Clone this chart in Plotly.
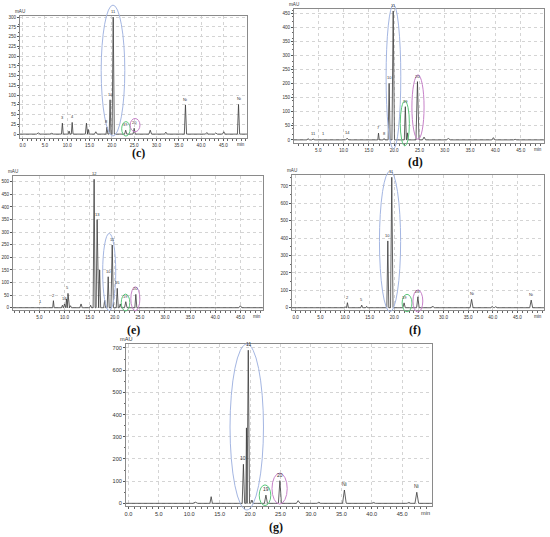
import plotly.graph_objects as go

# peaks: retention time (min), height (mAU), half width (min), label
c_rt = [3.5, 6.5, 8.9, 10.4, 11.1, 14.3, 14.7, 16.4, 18.9, 19.6, 20.3, 23.1, 25.0, 28.6, 32.1, 36.5, 41.3, 43.3, 45.1, 48.4]
c_h = [3, 2, 28, 8, 30, 28, 12, 6, 18, 88, 300, 10, 15, 10, 5, 75, 4, 3, 6, 76]
c_w = [0.4, 0.4, 0.2, 0.2, 0.2, 0.25, 0.2, 0.3, 0.2, 0.2, 0.25, 0.25, 0.25, 0.3, 0.3, 0.25, 0.3, 0.3, 0.3, 0.25]
c_lab = ["", "", "3", "", "4", "", "", "", "8", "10", "11", "19", "20", "", "", "Ni", "", "", "", "Ni"]
c_ell = [(17.6, 22.9, -5, 331), (22.2, 24.1, -5, 32), (24.1, 26.3, 6, 40)]

d_rt = [3.0, 4.0, 6.0, 8.5, 10.7, 16.9, 18.0, 19.0, 19.8, 22.2, 22.6, 24.6, 25.9, 30.7, 39.6, 43.9]
d_h = [4, 3, 2, 2, 6, 24, 5, 201, 458, 118, 25, 207, 10, 5, 8, 2]
d_w = [0.3, 0.3, 0.3, 0.3, 0.3, 0.15, 0.2, 0.2, 0.25, 0.2, 0.15, 0.3, 0.3, 0.4, 0.3, 0.3]
d_lab = ["", "11", "1", "", "14", "7", "8", "10", "11", "19", "", "20", "", "", "", ""]
d_ell = [(18.4, 21.3, -32, 480), (21.2, 23.0, -21, 138), (23.5, 25.9, 2, 231)]

e_rt = [5.3, 7.8, 9.6, 10.0, 10.4, 10.7, 11.2, 13.3, 15.2, 15.9, 16.5, 17.0, 18.0, 18.7, 19.5, 20.5, 21.1, 22.2, 24.2, 30.5, 45.0]
e_h = [2, 28, 10, 15, 35, 57, 8, 15, 10, 510, 350, 150, 30, 123, 249, 77, 15, 24, 53, 3, 8]
e_w = [0.3, 0.15, 0.2, 0.15, 0.15, 0.15, 0.2, 0.25, 0.2, 0.2, 0.2, 0.2, 0.2, 0.2, 0.25, 0.2, 0.2, 0.25, 0.2, 0.4, 0.3]
e_lab = ["1", "2", "", "14", "", "5", "", "", "", "12", "13", "", "", "10", "11", "15", "", "19", "20", "", ""]
e_ell = [(17.6, 20.2, -12, 295), (21.3, 23.0, -13, 54), (23.2, 25.0, -12, 83)]

f_rt = [10.0, 10.5, 13.4, 14.4, 18.7, 19.5, 22.0, 24.8, 27.8, 31.0, 35.7, 39.9, 40.6, 47.8]
f_h = [5, 29, 15, 8, 384, 750, 28, 63, 10, 4, 48, 8, 6, 44]
f_w = [0.2, 0.2, 0.2, 0.2, 0.2, 0.25, 0.25, 0.25, 0.3, 0.3, 0.3, 0.3, 0.3, 0.3]
f_lab = ["", "2", "5", "", "10", "11", "19", "20", "", "", "Ni", "", "", "Ni"]
f_ell = [(17.0, 21.3, -23, 786), (21.6, 23.6, -23, 77), (23.8, 25.8, -25, 102)]

g_rt = [11.0, 13.6, 18.9, 19.4, 19.7, 20.3, 22.6, 24.9, 27.9, 31.3, 35.5, 40.3, 46.1, 47.4]
g_h = [5, 30, 176, 340, 690, 15, 37, 102, 12, 5, 60, 4, 4, 50]
g_w = [0.4, 0.2, 0.2, 0.1, 0.2, 0.2, 0.25, 0.25, 0.3, 0.3, 0.3, 0.3, 0.3, 0.3]
g_lab = ["", "", "10", "", "11", "", "19", "20", "", "", "Ni", "", "", "Ni"]
g_ell = [(16.7, 22.2, -30, 718), (21.5, 23.4, -10, 83), (23.6, 26.1, -3, 136)]

# axis ticks
c_yticks = list(range(0, 301, 25))
d_yticks = list(range(0, 451, 50))
e_yticks = list(range(0, 501, 50))
f_yticks = list(range(0, 701, 100))
g_yticks = list(range(0, 701, 100))
x_ticks_full = [0, 5, 10, 15, 20, 25, 30, 35, 40, 45]
x_ticks_from5 = [5, 10, 15, 20, 25, 30, 35, 40, 45]

ell_colors = ["#a4b6e2", "#5cc97c", "#c782c9"]

W, H = 550, 537

# pixel boxes / ranges / label position for every panel
panels = [
    dict(name="(c)", rt=c_rt, h=c_h, w=c_w, lab=c_lab, ell=c_ell, px=(20, 247), py=(16, 138),
         xr=(-0.6, 50.3), yr=(-10, 303), yt=c_yticks, xt=x_ticks_full, tag=(138, 153), fs=4.6),
    dict(name="(d)", rt=d_rt, h=d_h, w=d_w, lab=d_lab, ell=d_ell, px=(294, 544), py=(9, 143),
         xr=(0.2, 49.6), yr=(-11, 465), yt=d_yticks, xt=x_ticks_from5, tag=(415, 162), fs=4.6),
    dict(name="(e)", rt=e_rt, h=e_h, w=e_w, lab=e_lab, ell=e_ell, px=(13, 263), py=(176, 310),
         xr=(-0.24, 49.5), yr=(-9, 523), yt=e_yticks, xt=x_ticks_from5, tag=(133, 330), fs=4.6),
    dict(name="(f)", rt=f_rt, h=f_h, w=f_w, lab=f_lab, ell=f_ell, px=(292, 544), py=(175, 310),
         xr=(-0.75, 50.4), yr=(-13, 763), yt=f_yticks, xt=x_ticks_full, tag=(415, 330), fs=4.6),
    dict(name="(g)", rt=g_rt, h=g_h, w=g_w, lab=g_lab, ell=g_ell, px=(126, 432), py=(344, 506),
         xr=(-0.4, 49.9), yr=(-12, 718), yt=g_yticks, xt=x_ticks_full, tag=(276, 527), fs=5.6),
]

fig = go.Figure()
shapes = []
annotations = []
layout = {}

for i, p in enumerate(panels):
    n = "" if i == 0 else str(i + 1)
    xa, ya = "x" + n, "y" + n

    # chromatogram line built from the peak table
    xs, ys = [p["xr"][0]], [0]
    for t, hh, ww in sorted(zip(p["rt"], p["h"], p["w"])):
        xs += [t - ww, t, t + ww]
        ys += [0, hh, 0]
    xs.append(p["xr"][1])
    ys.append(0)
    fig.add_trace(go.Scatter(x=xs, y=ys, mode="lines", xaxis=xa, yaxis=ya,
                             line=dict(color="#3a3a3a", width=0.8), showlegend=False,
                             hoverinfo="skip"))

    axis_common = dict(showline=True, linecolor="#8a8a8a", linewidth=1, mirror=True,
                       showgrid=True, gridcolor="#d4d4d4", griddash="dot", gridwidth=0.6,
                       zeroline=False, ticks="outside", ticklen=2, tickcolor="#555",
                       tickfont=dict(family="Liberation Sans", size=p["fs"], color="#333"))
    layout["xaxis" + n] = dict(axis_common, domain=[p["px"][0] / W, p["px"][1] / W],
                               range=list(p["xr"]), anchor=ya, tickvals=p["xt"],
                               tickformat=".1f", minor=dict(dtick=1, ticklen=1.5, tickcolor="#666",
                                                            ticks="outside", showgrid=False))
    layout["yaxis" + n] = dict(axis_common, domain=[1 - p["py"][1] / H, 1 - p["py"][0] / H],
                               range=list(p["yr"]), anchor=xa, tickvals=p["yt"],
                               minor=dict(ticklen=1.5, tickcolor="#666", ticks="outside",
                                          showgrid=False))

    # ellipses (domain refs so they may cross the frame)
    def dx(v):
        return (v - p["xr"][0]) / (p["xr"][1] - p["xr"][0])

    def dy(v):
        return (v - p["yr"][0]) / (p["yr"][1] - p["yr"][0])

    for (x0, x1, y0, y1), col in zip(p["ell"], ell_colors):
        shapes.append(dict(type="circle", xref=xa + " domain", yref=ya + " domain",
                           x0=dx(x0), x1=dx(x1), y0=dy(y0), y1=dy(y1),
                           line=dict(color=col, width=1)))

    # peak labels
    for t, hh, lb in zip(p["rt"], p["h"], p["lab"]):
        if lb:
            annotations.append(dict(x=t, y=hh, xref=xa, yref=ya, text=lb, showarrow=False,
                                    xanchor="center", yanchor="bottom", yshift=1,
                                    font=dict(family="Liberation Sans", size=p["fs"] - 0.6, color="#333")))

    # mAU / min captions
    annotations.append(dict(x=0, y=1, xref=xa + " domain", yref=ya + " domain", text="mAU",
                            showarrow=False, xanchor="center", yanchor="bottom",
                            font=dict(family="Liberation Sans", size=p["fs"], color="#333")))
    annotations.append(dict(x=1, y=0, xref=xa + " domain", yref=ya + " domain", text="min",
                            showarrow=False, xanchor="right", yanchor="top", yshift=-2,
                            font=dict(family="Liberation Sans", size=p["fs"], color="#333")))

    # panel letter
    annotations.append(dict(x=p["tag"][0] / W, y=1 - p["tag"][1] / H, xref="paper", yref="paper",
                            text="<b>" + p["name"] + "</b>", showarrow=False,
                            xanchor="center", yanchor="middle",
                            font=dict(family="Liberation Serif", size=12, color="#111")))

fig.update_layout(**layout)
fig.update_layout(width=W, height=H, margin=dict(l=0, r=0, t=0, b=0),
                  paper_bgcolor="white", plot_bgcolor="white",
                  shapes=shapes, annotations=annotations)

fig.write_html("out.html", config={"displayModeBar": False},
               post_script="document.body.style.margin='0';")
